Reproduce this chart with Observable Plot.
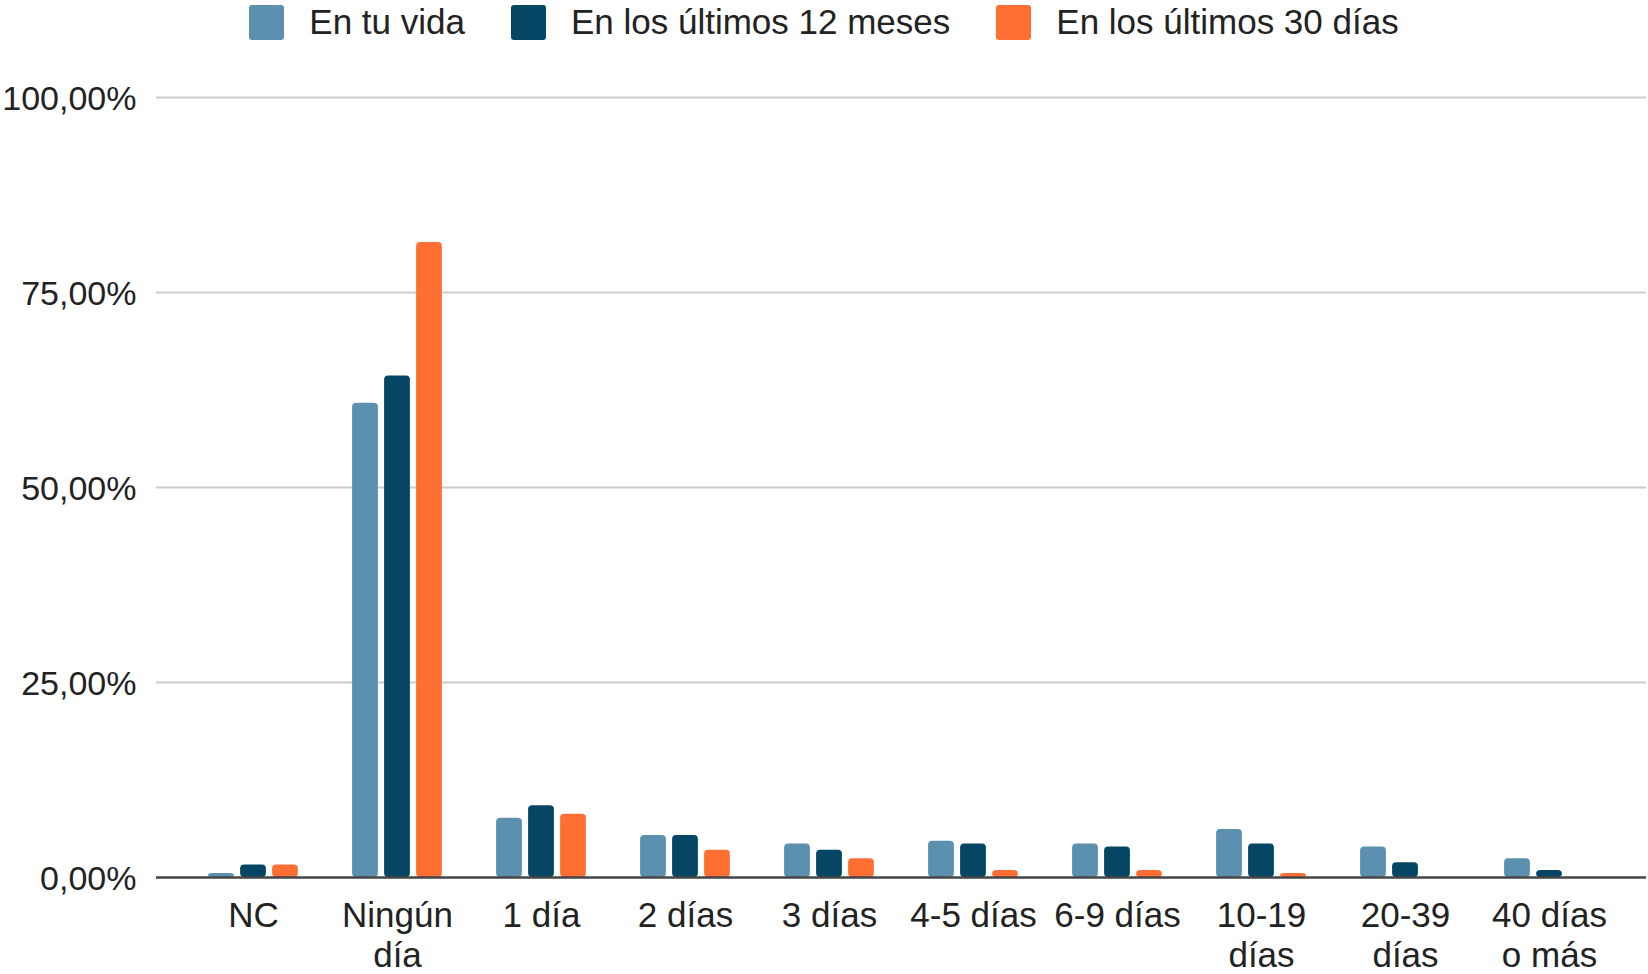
<!DOCTYPE html>
<html>
<head>
<meta charset="utf-8">
<script src="https://cdn.jsdelivr.net/npm/d3@7"></script>
<script src="https://cdn.jsdelivr.net/npm/@observablehq/plot@0.6"></script>
<style>
  html, body { margin: 0; padding: 0; background: #fff; }
  body { width: 1648px; height: 974px; overflow: hidden; font-family: "Liberation Sans", Arial, sans-serif; }
  #legend { height: 44px; display: flex; justify-content: center; align-items: center; font-size: 35px; color: #222; }
  .item { display: flex; align-items: center; margin: 0 23px; }
  .sw { width: 35px; height: 35px; border-radius: 3px; margin-right: 25px; }
  #chart svg { display: block; }
</style>
</head>
<body>
<div id="legend"></div>
<div id="chart"></div>
<script>
// ---- data ----
const categories = ["NC", "Ningún día", "1 día", "2 días", "3 días", "4-5 días", "6-9 días", "10-19 días", "20-39 días", "40 días o más"];
const tickLabels = ["NC", "Ningún\ndía", "1 día", "2 días", "3 días", "4-5 días", "6-9 días", "10-19\ndías", "20-39\ndías", "40 días\no más"];
const seriesNames = ["En tu vida", "En los últimos 12 meses", "En los últimos 30 días"];
const seriesColors = ["#5b91af", "#044663", "#ff6f33"];
const enTuVida   = [0.5, 60.8, 7.6, 5.4, 4.3, 4.65, 4.3, 6.15, 3.9, 2.4];
const ultimos12m = [1.6, 64.3, 9.2, 5.4, 3.5, 4.3, 3.9, 4.3, 1.9, 0.9];
const ultimos30d = [1.6, 81.4, 8.1, 3.5, 2.4, 0.9, 0.9, 0.5, 0, 0];
const yTicks = [0, 25, 50, 75, 100];
const yTickLabels = ["0,00%", "25,00%", "50,00%", "75,00%", "100,00%"];

const seriesValues = [enTuVida, ultimos12m, ultimos30d];
const rows = seriesValues.map((vals, s) => categories.map((c, i) => ({cat: c, series: seriesNames[s], value: vals[i]})));

// ---- legend ----
const legend = document.getElementById("legend");
seriesNames.forEach((name, i) => {
  const it = document.createElement("div");
  it.className = "item";
  const sw = document.createElement("div");
  sw.className = "sw";
  sw.style.background = seriesColors[i];
  const tx = document.createElement("span");
  tx.textContent = name;
  it.appendChild(sw); it.appendChild(tx);
  legend.appendChild(it);
});

// ---- chart ----
const W = 1648, H = 930;
const barW = 26, barStep = 32;
const bandW = (W - 156 - 2 - 48) / categories.length;
const inset = (bandW - barW) / 2;
const offsets = [-barStep, 0, barStep];

const chart = Plot.plot({
  width: W,
  height: H,
  marginLeft: 156,
  marginRight: 2,
  marginTop: 53,
  marginBottom: 97,
  style: {fontFamily: "Liberation Sans, Arial, sans-serif", fontSize: "34px", color: "#222", background: "white", overflow: "visible"},
  x: {domain: categories, padding: 0, insetLeft: 24, insetRight: 24, label: null},
  y: {domain: [0, 100], label: null},
  marks: [
    Plot.ruleY(yTicks.slice(1), {stroke: "#cccccc", strokeWidth: 2}),
    ...rows.map((data, s) => Plot.barY(data, {
      x: "cat", y: "value", fill: seriesColors[s],
      dx: offsets[s], insetLeft: inset, insetRight: inset, rx: 4
    })),
    Plot.ruleY([0], {stroke: "#444444", strokeWidth: 2.5}),
    Plot.axisY({ticks: yTicks, tickFormat: (d) => yTickLabels[yTicks.indexOf(d)], tickSize: 0, tickPadding: 20, fontSize: 34, dy: 2, label: null}),
    Plot.axisX({tickFormat: (d) => tickLabels[categories.indexOf(d)], tickSize: 0, tickPadding: 21, fontSize: 35, lineHeight: 1.14, label: null})
  ]
});
document.getElementById("chart").appendChild(chart);
</script>
</body>
</html>
